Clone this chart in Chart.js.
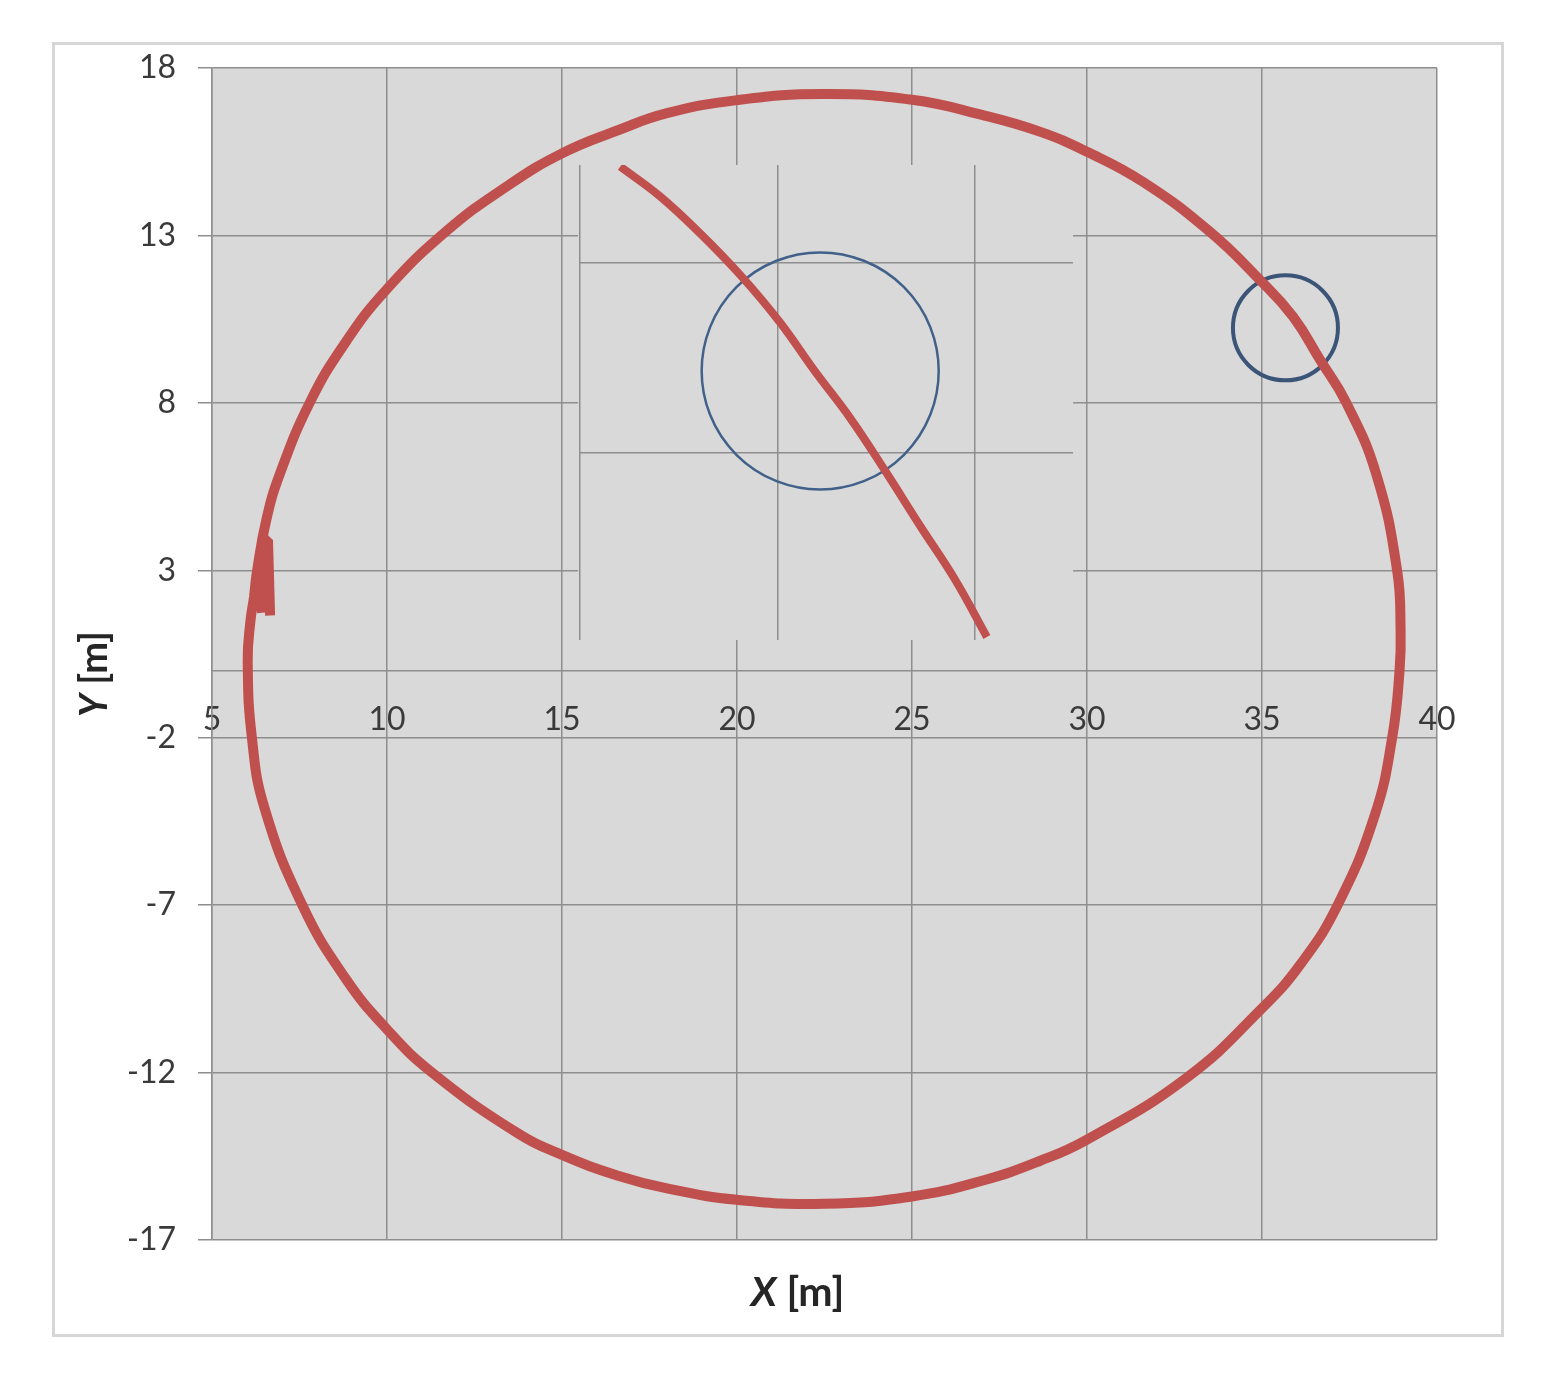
<!DOCTYPE html>
<html>
<head>
<meta charset="utf-8">
<script src="https://cdn.jsdelivr.net/npm/chart.js@4.4.1/dist/chart.umd.min.js"></script>
<style>
    html, body { margin: 0; padding: 0; background: #fff; }
    #frame { position: absolute; left: 52px; top: 42px; width: 1446px; height: 1289px; border: 3px solid #d6d6d6; }
    #mainChart { position: absolute; left: 0; top: 0; }
    #zoomChart { position: absolute; left: 578px; top: 165px; }
</style>
</head>
<body>
<div id="frame"></div>
<canvas id="mainChart" width="1544" height="1380"></canvas>
<canvas id="zoomChart" width="495" height="475"></canvas>
<script>
// Axis ticks (main plot)
const xTicks = [5, 10, 15, 20, 25, 30, 35, 40];
const yTicks = [-17, -12, -7, -2, 3, 8, 13, 18];

// Start of the run (small zig-zag on the left)
const startX = [6.66, 6.60, 6.45, 6.43, 6.30];
const startY = [1.65, 3.90, 3.90, 1.75, 2.40];

// Driven path
const pathX = [6.20, 6.29, 6.55, 6.93, 7.79, 8.81, 10.00, 11.70, 13.40, 15.00, 16.60, 18.00, 20.00, 22.50,
    25.00, 27.00, 28.65, 30.00, 31.60, 33.50, 34.94, 35.89, 36.66, 37.41, 38.27, 38.86, 38.96, 38.93,
    38.72, 38.22, 37.16, 36.11, 35.00, 32.84, 30.00, 28.65, 27.00, 25.00, 22.50, 20.00, 18.00, 16.60,
    15.00, 13.67, 11.29, 10.00, 8.81, 7.58, 6.50, 6.14, 6.02, 6.10, 6.20, 6.29];
const pathY = [2.20, 3.00, 4.50, 5.85, 8.00, 9.80, 11.40, 13.13, 14.45, 15.45, 16.14, 16.65, 17.04, 17.22,
    17.05, 16.60, 16.10, 15.50, 14.60, 13.12, 11.67, 10.57, 9.28, 8.00, 5.85, 3.00, 1.20, 0.00,
    -2.00, -4.32, -7.00, -8.75, -10.08, -12.16, -14.00, -14.64, -15.23, -15.70, -15.92, -15.80, -15.46, -15.08,
    -14.46, -13.77, -12.00, -10.71, -9.18, -7.00, -4.10, -2.00, 0.30, 1.50, 2.20, 3.00];

// Circle zone (centre and radius, m)
const zoneX = 35.67;
const zoneY = 10.24;
const zoneR = 1.5;

// Inset (zoom on the zone)
const insetXTicks = [32.5, 35, 37.5];
const insetYTicks = [9, 11.5];
const insetPathX = [33.01, 33.51, 34.02, 34.53, 35.03, 35.47, 35.92, 36.36, 36.80, 37.25, 37.65];
const insetPathY = [12.76, 12.37, 11.88, 11.33, 10.71, 10.07, 9.45, 8.76, 8.04, 7.32, 6.57];
const insetZoneX = 35.54;
const insetZoneY = 10.07;
const insetZoneR = 1.5;

const red = '#c0504d';
const blue = '#3a5577';
const gridColor = '#8e8e8e';
const fontFamily = 'Lato, "Open Sans", sans-serif';

function toPoints(xs, ys) {
    return xs.map(function(x, i) { return { x: x, y: ys[i] }; });
}

// radius in pixels of a circle given in metres, through the x scale
function zoneRadius(cx, r) {
    return function(ctx) {
        const s = ctx.chart.scales.x;
        if (!s) return 0;
        return Math.abs(s.getPixelForValue(cx + r) - s.getPixelForValue(cx));
    };
}

const plotBg = {
    id: 'plotBg',
    beforeDraw(chart, args, opts) {
        const a = chart.chartArea;
        const c = chart.ctx;
        c.save();
        c.fillStyle = opts.color;
        if (opts.full) c.fillRect(0, 0, chart.width, chart.height);
        else c.fillRect(a.left, a.top, a.right - a.left, a.bottom - a.top);
        c.restore();
    }
};

// "X [m]" / "Y [m]" with italic letter, like the original
function drawAxisTitle(c, letter, unit, cx, cy, size) {
    c.font = 'italic bold ' + size + 'px ' + fontFamily;
    const w1 = c.measureText(letter).width;
    c.font = 'bold ' + size + 'px ' + fontFamily;
    const w2 = c.measureText(unit).width;
    const x0 = cx - (w1 + w2) / 2;
    c.textAlign = 'left';
    c.textBaseline = 'middle';
    c.font = 'italic bold ' + size + 'px ' + fontFamily;
    c.fillText(letter, x0, cy);
    c.font = 'bold ' + size + 'px ' + fontFamily;
    c.fillText(unit, x0 + w1, cy);
}

const axisTitles = {
    id: 'axisTitles',
    afterDraw(chart) {
        const a = chart.chartArea;
        const c = chart.ctx;
        c.save();
        c.fillStyle = '#262626';
        drawAxisTitle(c, 'X', ' [m]', (a.left + a.right) / 2 - 27, a.bottom + 53, 41);
        c.translate(a.left - 117, (a.top + a.bottom) / 2 + 20);
        c.rotate(-Math.PI / 2);
        drawAxisTitle(c, 'Y', ' [m]', 0, 0, 38);
        c.restore();
    }
};

new Chart(document.getElementById('mainChart'), {
    type: 'scatter',
    data: {
        datasets: [{
            label: 'start',
            data: toPoints(startX, startY),
            showLine: true,
            borderColor: red,
            borderWidth: 10,
            borderJoinStyle: 'bevel',
            pointRadius: 0,
            tension: 0
        }, {
            label: 'path',
            data: toPoints(pathX, pathY),
            showLine: true,
            borderColor: red,
            borderWidth: 10,
            borderJoinStyle: 'round',
            pointRadius: 0,
            tension: 0.45
        }, {
            label: 'zone',
            data: [{ x: zoneX, y: zoneY }],
            pointRadius: zoneRadius(zoneX, zoneR),
            pointBorderColor: blue,
            pointBorderWidth: 4,
            pointBackgroundColor: 'rgba(0,0,0,0)'
        }]
    },
    options: {
        responsive: false,
        animation: false,
        events: [],
        layout: { padding: { left: 72, right: 107, top: 68, bottom: 140 } },
        plugins: {
            legend: { display: false },
            tooltip: { enabled: false },
            plotBg: { color: '#d9d9d9' }
        },
        scales: {
            x: {
                type: 'linear',
                position: { y: 0 },
                min: 5,
                max: 40,
                afterBuildTicks: function(s) { s.ticks = xTicks.map(function(v) { return { value: v }; }); },
                grid: { color: gridColor, lineWidth: 1.5, drawTicks: false },
                border: { color: gridColor, width: 1.5 },
                ticks: { padding: 30, color: '#3a3a3a', font: { family: fontFamily, size: 32 } }
            },
            y: {
                type: 'linear',
                min: -17,
                max: 18,
                afterBuildTicks: function(s) { s.ticks = yTicks.map(function(v) { return { value: v }; }); },
                afterFit: function(s) { s.width = 140; },
                grid: { color: gridColor, lineWidth: 1.5, tickLength: 14 },
                border: { color: gridColor, width: 1.5 },
                ticks: { padding: 22, color: '#3a3a3a', font: { family: fontFamily, size: 32 } }
            }
        }
    },
    plugins: [plotBg, axisTitles]
});

// Inset with the zoomed view
new Chart(document.getElementById('zoomChart'), {
    type: 'scatter',
    data: {
        datasets: [{
            label: 'path',
            data: toPoints(insetPathX, insetPathY),
            showLine: true,
            borderColor: red,
            borderWidth: 8,
            borderJoinStyle: 'round',
            pointRadius: 0,
            tension: 0.4
        }, {
            label: 'zone',
            data: [{ x: insetZoneX, y: insetZoneY }],
            pointRadius: zoneRadius(insetZoneX, insetZoneR),
            pointBorderColor: '#41618a',
            pointBorderWidth: 2.5,
            pointBackgroundColor: 'rgba(0,0,0,0)'
        }]
    },
    options: {
        responsive: false,
        animation: false,
        events: [],
        layout: { padding: { left: 2, right: 0, top: 0, bottom: 0 } },
        plugins: {
            legend: { display: false },
            tooltip: { enabled: false },
            plotBg: { color: '#d9d9d9', full: true }
        },
        scales: {
            x: {
                type: 'linear',
                min: 32.5,
                max: 38.74,
                afterBuildTicks: function(s) { s.ticks = insetXTicks.map(function(v) { return { value: v }; }); },
                afterFit: function(s) { s.height = 0; },
                ticks: { display: false },
                grid: { color: gridColor, lineWidth: 1.5, drawTicks: false },
                border: { display: false }
            },
            y: {
                type: 'linear',
                min: 6.53,
                max: 12.78,
                afterBuildTicks: function(s) { s.ticks = insetYTicks.map(function(v) { return { value: v }; }); },
                afterFit: function(s) { s.width = 0; },
                ticks: { display: false },
                grid: { color: gridColor, lineWidth: 1.5, drawTicks: false },
                border: { display: false }
            }
        }
    },
    plugins: [plotBg]
});
</script>
</body>
</html>
